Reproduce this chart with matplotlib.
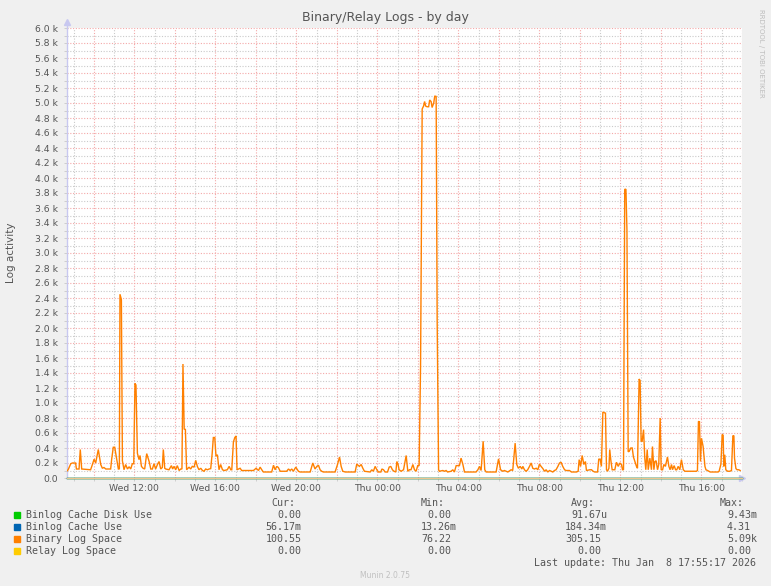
import matplotlib
matplotlib.use("Agg")
import matplotlib.pyplot as plt
from matplotlib.ticker import FixedLocator, MultipleLocator, FuncFormatter
from matplotlib.patches import Rectangle

# ---------------- data (hours since Wed 00:00) ----------------
wed_hours = [
    8.66, 8.73, 8.86, 8.94, 9.10, 9.14, 9.27, 9.33, 9.40, 9.84,
    9.93, 10.01, 10.09, 10.22, 10.34, 10.42, 10.50, 10.59, 10.83, 10.88,
    10.96, 11.03, 11.16, 11.21, 11.26, 11.29, 11.36, 11.41, 11.49, 11.57,
    11.66, 11.74, 11.82, 11.90, 11.97, 12.03, 12.08, 12.15, 12.23, 12.28,
    12.35, 12.43, 12.51, 12.61, 12.73, 12.81, 12.89, 12.97, 13.05, 13.14,
    13.22, 13.30, 13.38, 13.43, 13.50, 13.55, 13.71, 13.83, 13.89, 13.96,
    14.04, 14.12, 14.21, 14.29, 14.35, 14.40, 14.46, 14.52, 14.58, 14.70,
    14.78, 14.86, 14.95, 15.03, 15.11, 15.19, 15.28, 15.36, 15.44, 15.52,
    15.61, 15.69, 15.77, 15.84, 15.90, 15.97, 16.03, 16.10, 16.18, 16.26,
    16.35, 16.43, 16.59, 16.68, 16.76, 16.81, 16.89, 16.96, 17.02, 17.07,
    17.22, 17.30, 17.55, 17.80, 17.88, 18.01, 18.13, 18.21, 18.29, 18.37,
    18.78, 18.87, 18.95, 19.03, 19.11, 19.20, 19.52, 19.61, 19.69, 19.77,
    19.85, 19.97, 20.10, 20.18, 20.68, 20.81, 20.92, 21.01, 21.09, 21.17,
    21.25, 21.33, 21.91, 22.03, 22.13, 22.21, 22.29, 22.41, 22.90, 22.98,
    23.11, 23.20, 23.28, 23.36, 23.64, 23.72, 23.80, 23.89, 23.97,
]
wed_values = [
    90, 110, 190, 200, 200, 120, 120, 380, 120, 110,
    180, 250, 200, 380, 180, 130, 140, 120, 120, 250,
    410, 410, 200, 120, 120, 2450, 2380, 230, 110, 180,
    120, 150, 120, 190, 190, 1260, 1240, 330, 245, 300,
    155, 130, 120, 325, 220, 120, 120, 190, 120, 180,
    220, 120, 140, 380, 130, 120, 110, 165, 120, 155,
    110, 165, 100, 120, 120, 1520, 650, 650, 110, 145,
    120, 155, 145, 235, 155, 110, 130, 100, 90, 120,
    110, 120, 125, 320, 540, 540, 290, 310, 110, 180,
    110, 100, 110, 155, 110, 110, 480, 540, 560, 110,
    130, 100, 100, 100, 100, 130, 100, 145, 110, 80,
    80, 170, 110, 155, 140, 90, 90, 120, 100, 120,
    90, 145, 90, 80, 80, 200, 120, 155, 170, 110,
    90, 80, 80, 180, 280, 155, 90, 80, 80, 185,
    155, 180, 130, 90, 80, 110, 90, 155, 110,
]
thu_hours = [
    24.05, 24.17, 24.22, 24.30, 24.38, 24.50, 24.58, 24.66, 24.74, 24.82,
    24.91, 24.96, 25.02, 25.07, 25.17, 25.29, 25.42, 25.50, 25.58, 25.66,
    25.75, 25.83, 25.91, 25.99, 26.06, 26.13, 26.21, 26.28, 26.33, 26.38,
    26.45, 26.53, 26.58, 26.65, 26.70, 26.78, 26.83, 26.90, 26.95, 27.02,
    27.06, 27.23, 27.31, 27.39, 27.47, 27.64, 27.72, 27.80, 27.89, 28.05,
    28.13, 28.22, 28.30, 28.87, 28.96, 29.04, 29.12, 29.22, 29.30, 29.37,
    29.86, 29.98, 30.08, 30.19, 30.27, 30.44, 30.60, 30.68, 30.80, 30.88,
    30.96, 31.05, 31.13, 31.18, 31.26, 31.34, 31.42, 31.51, 31.59, 31.67,
    31.75, 31.84, 31.92, 32.00, 32.08, 32.17, 32.25, 32.33, 32.41, 32.50,
    32.66, 32.74, 32.82, 32.91, 32.99, 33.07, 33.15, 33.24, 33.32, 33.48,
    33.58, 33.83, 33.91, 33.96, 34.03, 34.11, 34.19, 34.27, 34.32, 34.49,
    34.57, 34.65, 34.73, 34.87, 34.93, 35.00, 35.06, 35.13, 35.20, 35.26,
    35.31, 35.36, 35.43, 35.47, 35.52, 35.59, 35.72, 35.80, 35.89, 35.97,
    36.05, 36.10, 36.15, 36.21, 36.27, 36.32, 36.38, 36.43, 36.51, 36.58,
    36.64, 36.71, 36.79, 36.84, 36.92, 36.97, 37.02, 37.07, 37.14, 37.20,
    37.25, 37.32, 37.37, 37.45, 37.53, 37.58, 37.65, 37.70, 37.76, 37.83,
    37.89, 37.96, 38.01, 38.08, 38.14, 38.22, 38.32, 38.39, 38.45, 38.52,
    38.57, 38.65, 38.72, 38.78, 38.85, 38.93, 39.01, 39.10, 39.18, 39.75,
    39.80, 39.85, 39.90, 39.95, 40.00, 40.08, 40.17, 40.22, 40.30, 40.36,
    40.43, 40.82, 40.87, 40.96, 41.02, 41.07, 41.10, 41.15, 41.20, 41.29,
    41.40, 41.48, 41.55, 41.60, 41.63, 41.70, 41.76, 41.84, 41.91,
]
thu_values = [
    80, 80, 120, 110, 80, 80, 145, 155, 110, 90,
    80, 220, 180, 110, 90, 110, 300, 90, 110, 110,
    180, 110, 90, 165, 165, 1490, 4920, 4960, 5020, 4960,
    4950, 4950, 5040, 5020, 4940, 5000, 5090, 5090, 2100, 110,
    90, 100, 90, 100, 80, 90, 110, 80, 165, 165,
    265, 180, 80, 80, 110, 155, 100, 490, 110, 80,
    80, 255, 110, 90, 100, 80, 110, 100, 465, 180,
    130, 155, 120, 155, 110, 90, 110, 155, 200, 130,
    120, 130, 110, 185, 155, 125, 90, 110, 80, 100,
    80, 100, 110, 155, 200, 210, 155, 110, 100, 100,
    80, 80, 90, 245, 155, 300, 180, 220, 100, 110,
    110, 90, 80, 80, 255, 245, 155, 880, 870, 865,
    110, 90, 130, 380, 245, 110, 110, 210, 155, 200,
    180, 110, 110, 3850, 3850, 3300, 350, 355, 400, 400,
    280, 220, 155, 130, 1320, 1300, 490, 490, 645, 265,
    110, 380, 110, 265, 110, 420, 110, 220, 230, 110,
    180, 800, 110, 110, 180, 155, 280, 155, 110, 180,
    110, 165, 110, 110, 155, 110, 245, 110, 90, 90,
    100, 755, 750, 220, 530, 420, 155, 110, 100, 90,
    80, 80, 90, 185, 580, 570, 155, 310, 110, 90,
    90, 100, 565, 560, 265, 125, 110, 110, 100,
]
flat_hours = [8.66, 42.0]
disk_use_values = [0.0, 0.0]
cache_use_values = [0.18, 0.18]
relay_values = [0.0, 0.0]

x_tick_hours = [12, 16, 20, 24, 28, 32, 36, 40]
x_tick_labels = ["Wed 12:00", "Wed 16:00", "Wed 20:00", "Thu 00:00",
                 "Thu 04:00", "Thu 08:00", "Thu 12:00", "Thu 16:00"]

legend_names = ["Binlog Cache Disk Use", "Binlog Cache Use",
                "Binary Log Space", "Relay Log Space"]
legend_colors = ["#00CC00", "#0066B3", "#FF8000", "#FFCC00"]
cur_text = ["0.00", "56.17m", "100.55", "0.00"]
min_text = ["0.00", "13.26m", "76.22", "0.00"]
avg_text = ["91.67u", "184.34m", "305.15", "0.00"]
max_text = ["9.43m", "4.31", "5.09k", "0.00"]
last_update = "Last update: Thu Jan  8 17:55:17 2026"

# ---------------- figure ----------------
W, H = 771, 586
fig = plt.figure(figsize=(W / 100, H / 100), dpi=100, facecolor="#F0F0F0")


def fx(px):
    return px / W


def fy(py):
    return 1 - py / H


TXT = "#555555"
X0, X1, Y0, Y1 = 66.7, 742.0, 28.0, 478.0
ax = fig.add_axes([fx(X0), fy(Y1), (X1 - X0) / W, (Y1 - Y0) / H])
ax.set_facecolor("white")
ax.set_xlim(8.66, 42.0)
ax.set_ylim(0, 6000)

# grid
ax.yaxis.set_major_locator(MultipleLocator(200))
ax.yaxis.set_minor_locator(MultipleLocator(100))
ax.xaxis.set_major_locator(FixedLocator(list(range(10, 43, 2))))
ax.xaxis.set_minor_locator(MultipleLocator(1))
dot = (0, (1, 1.5))
ax.grid(which="major", color="#F4A8A8", linestyle=dot, linewidth=0.8)
ax.grid(which="minor", color="#CACACA", linestyle=dot, linewidth=0.8)
ax.set_axisbelow(True)

ax.yaxis.set_major_formatter(FuncFormatter(
    lambda v, p: "0.0" if v == 0 else f"{v / 1000:.1f} k"))
lab = {h: l for h, l in zip(x_tick_hours, x_tick_labels)}
ax.xaxis.set_major_formatter(FuncFormatter(lambda v, p: lab.get(int(round(v)), "")))
ax.tick_params(axis="both", which="both", length=2, width=0.6, color="#C8C8C8",
               labelcolor=TXT, labelsize=6.7)
ax.tick_params(axis="y", pad=4.0)
ax.tick_params(axis="x", pad=2.5)

for s in ("top", "right"):
    ax.spines[s].set_visible(False)
for s in ("left", "bottom"):
    ax.spines[s].set_color("#C8C8F0")
    ax.spines[s].set_linewidth(1.0)

# axis arrows
ax.plot([0, 0], [1, 1 + 6 / 450], transform=ax.transAxes, color="#C8C8F0",
        lw=1.0, clip_on=False)
ax.plot([0], [1 + 6 / 450], transform=ax.transAxes, marker="^", ms=4,
        color="#C8C8F0", clip_on=False)
ax.plot([1], [0], transform=ax.transAxes, marker=">", ms=4,
        color="#C8C8F0", clip_on=False)

# series (above spines)
ax.plot(flat_hours, disk_use_values, color=legend_colors[0], lw=1.0,
        clip_on=False, zorder=3)
ax.plot(flat_hours, cache_use_values, color=legend_colors[1], lw=1.0,
        clip_on=False, zorder=3)
ax.plot(wed_hours + thu_hours, wed_values + thu_values, color=legend_colors[2],
        lw=1.0, solid_joinstyle="miter", zorder=3)
ax.plot(flat_hours, relay_values, color="#EBC68E", lw=1.0, clip_on=False,
        zorder=3)

# texts
fig.text(fx(385.5), fy(18), "Binary/Relay Logs - by day", ha="center", va="center",
         fontsize=9, color=TXT)
fig.text(fx(761), fy(53), "RRDTOOL / TOBI OETIKER", rotation=270, ha="center",
         va="center", fontsize=5, color="#BDBDBD")
fig.text(fx(11), fy(253), "Log activity", rotation=90, ha="center", va="center",
         fontsize=7.5, color=TXT)

# legend
mono = "DejaVu Sans Mono"
LF = 7.2
for txt, xr in (("Cur:", 295), ("Min:", 445), ("Avg:", 595), ("Max:", 744)):
    fig.text(fx(xr), fy(503), txt, ha="right", va="center", family=mono,
             fontsize=LF, color=TXT)

row_y = [515, 527, 539, 551]


def put_val(s, x_plain, x_suffix, y):
    xr = x_suffix if s[-1].isalpha() else x_plain
    fig.text(fx(xr), fy(y), s, ha="right", va="center", family=mono,
             fontsize=LF, color=TXT)


for i, y in enumerate(row_y):
    fig.add_artist(Rectangle((fx(14), fy(y + 3)), 6 / W, 6 / H,
                             transform=fig.transFigure, color=legend_colors[i]))
    fig.text(fx(26), fy(y), legend_names[i], ha="left", va="center", family=mono,
             fontsize=LF, color=TXT)
    put_val(cur_text[i], 301.5, 301.5, y)
    put_val(min_text[i], 451, 457, y)
    put_val(avg_text[i], 601, 607, y)
    put_val(max_text[i], 751, 757, y)

fig.text(fx(756), fy(563), last_update, ha="right", va="center", family=mono,
         fontsize=LF, color=TXT)
fig.text(fx(385.5), fy(575), "Munin 2.0.75", ha="center", va="center",
         fontsize=5.5, color="#C0C0C0")

fig.savefig("out.png", dpi=100, facecolor=fig.get_facecolor())
